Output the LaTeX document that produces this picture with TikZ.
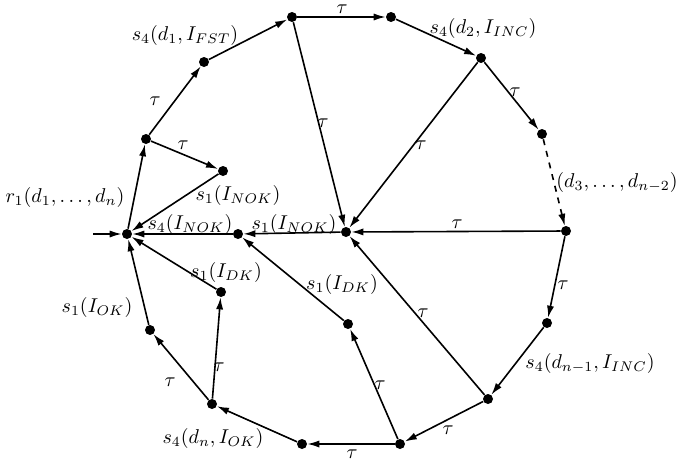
\documentclass[tikz,border=0pt]{standalone}
\usepackage{tikz}
\usetikzlibrary{arrows.meta}
\tikzset{
    state/.style={
        circle,
        fill=black,
        inner sep=0pt,
        minimum size=5pt
    },
    arrow/.style={
        -{Latex[length=6pt,width=3.6pt]},
        line width=0.8pt
    },
    lbl/.style={
        font=\fontsize{10}{12}\selectfont,
        inner sep=1pt
    }
}
\begin{document}
\begin{tikzpicture}[x=0.5pt, y=-0.5pt]
\useasboundingbox (0,0) rectangle (678,461);

% states on the outer ring
\node[state] (s0) at (127,234) {};
\node[state] (sa) at (146,139) {};
\node[state] (sb) at (204,62) {};
\node[state] (sc) at (292,17) {};
\node[state] (sd) at (391,17) {};
\node[state] (se) at (481,58) {};
\node[state] (sf) at (542,134) {};
\node[state] (sg) at (566,231) {};
\node[state] (sh) at (547,323) {};
\node[state] (si) at (488,399) {};
\node[state] (sj) at (400,444) {};
\node[state] (sk) at (302,444) {};
\node[state] (sl) at (212,404) {};
\node[state] (sm) at (150,330) {};
% inner states
\node[state] (so) at (223,171) {};
\node[state] (sn) at (221,292) {};
\node[state] (sp) at (238,234) {};
\node[state] (sq) at (346,232) {};
\node[state] (sr) at (348,324) {};
\coordinate (in) at (93,234);

\draw[arrow] (in) -- (s0);
\draw[arrow] (s0) -- (sa);
\draw[arrow] (sa) -- (sb);
\draw[arrow] (sb) -- (sc);
\draw[arrow] (sc) -- (sd);
\draw[arrow] (sd) -- (se);
\draw[arrow] (se) -- (sf);
\draw[arrow, dashed] (sf) -- (sg);
\draw[arrow] (sg) -- (sh);
\draw[arrow] (sh) -- (si);
\draw[arrow] (si) -- (sj);
\draw[arrow] (sj) -- (sk);
\draw[arrow] (sk) -- (sl);
\draw[arrow] (sl) -- (sm);
\draw[arrow] (sm) -- (s0);
\draw[arrow] (sa) -- (so);
\draw[arrow] (so) -- (s0);
\draw[arrow] (sl) -- (sn);
\draw[arrow] (sn) -- (s0);
\draw[arrow] (sp) -- (s0);
\draw[arrow] (sq) -- (sp);
\draw[arrow] (sc) -- (sq);
\draw[arrow] (se) -- (sq);
\draw[arrow] (sg) -- (sq);
\draw[arrow] (si) -- (sq);
\draw[arrow] (sj) -- (sr);
\draw[arrow] (sr) -- (sp);

% labels
\node[lbl] (l1) at (65,197) {$r_1(d_1,\ldots,d_n)$};
\node[lbl] (l2) at (155,101) {$\tau$};
\node[lbl] (l3) at (185,35) {$s_4(d_1,I_{FST})$};
\node[lbl] (l4) at (342,9) {$\tau$};
\node[lbl] (l5) at (483,28) {$s_4(d_2,I_{INC})$};
\node[lbl] (l6) at (515,92) {$\tau$};
\node[lbl] (l7) at (617,182) {$(d_3,\ldots,d_{n-2})$};
\node[lbl] (l8) at (563,285) {$\tau$};
\node[lbl] (l9) at (590,363) {$s_4(d_{n-1},I_{INC})$};
\node[lbl] (l10) at (448,430) {$\tau$};
\node[lbl] (l11) at (352,454) {$\tau$};
\node[lbl] (l12) at (213,438) {$s_4(d_n,I_{OK})$};
\node[lbl] (l13) at (170,382) {$\tau$};
\node[lbl] (l14) at (97,307) {$s_1(I_{OK})$};
\node[lbl] (l15) at (219,367) {$\tau$};
\node[lbl] (l16) at (226,272) {$s_1(I_{DK})$};
\node[lbl] (l17) at (183,145) {$\tau$};
\node[lbl] (l18) at (238,195) {$s_1(I_{NOK})$};
\node[lbl] (l19) at (190,224) {$s_4(I_{NOK})$};
\node[lbl] (l20) at (294,224) {$s_1(I_{NOK})$};
\node[lbl] (l21) at (323,123) {$\tau$};
\node[lbl] (l22) at (421,145) {$\tau$};
\node[lbl] (l23) at (457,224) {$\tau$};
\node[lbl] (l24) at (423,313) {$\tau$};
\node[lbl] (l25) at (342,284) {$s_1(I_{DK})$};
\node[lbl] (l26) at (380,385) {$\tau$};

\end{tikzpicture}
\end{document}
